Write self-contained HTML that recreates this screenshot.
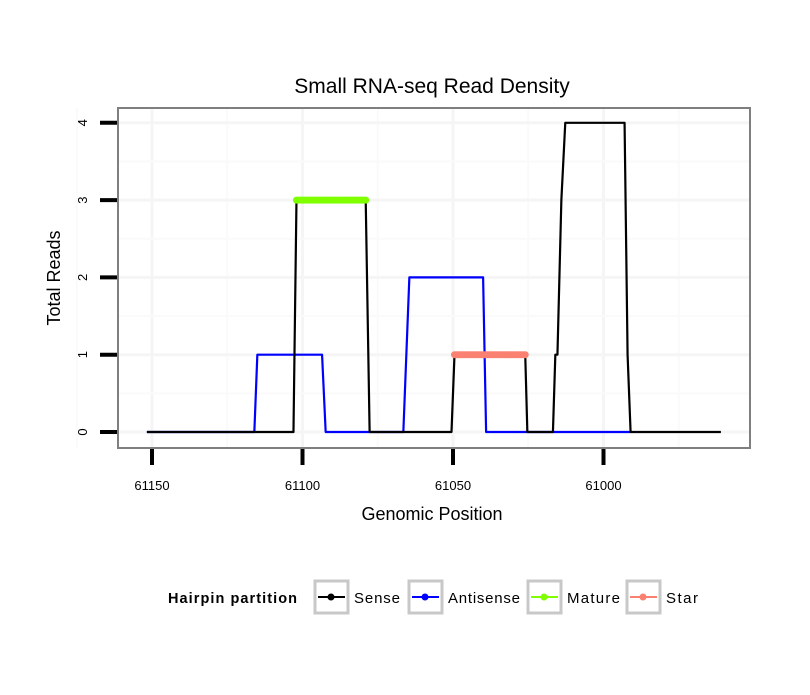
<!DOCTYPE html>
<html><head><meta charset="utf-8"><style>
body{margin:0;background:#fff;font-family:"Liberation Sans",sans-serif}
</style></head><body>
<svg width="810" height="690" xmlns="http://www.w3.org/2000/svg" font-family="Liberation Sans, sans-serif">
<rect width="810" height="690" fill="#fff"/>
<text x="432" y="93" font-size="21" text-anchor="middle">Small RNA-seq Read Density</text>
<g id="grid"></g>
<rect x="118" y="108" width="632" height="340" fill="none" stroke="#7f7f7f" stroke-width="2"/>
<g id="series"></g>
<g id="axes"></g>
<text x="432" y="520" font-size="18" text-anchor="middle">Genomic Position</text>
<text transform="translate(60,278) rotate(-90)" font-size="18" text-anchor="middle">Total Reads</text>
<g>
<text x="168" y="603" font-size="14.5" font-weight="bold" textLength="129">Hairpin partition</text>
<g><rect x="315" y="581" width="33" height="32" fill="#fff" stroke="#c8c8c8" stroke-width="3"/><line x1="318" y1="597" x2="345" y2="597" stroke="#000" stroke-width="2"/><circle cx="331" cy="597" r="3.5" fill="#000"/><text x="354" y="603" font-size="15" textLength="46">Sense</text></g>
<g><rect x="409" y="581" width="33" height="32" fill="#fff" stroke="#c8c8c8" stroke-width="3"/><line x1="412" y1="597" x2="439" y2="597" stroke="#0000ff" stroke-width="2"/><circle cx="425" cy="597" r="3.5" fill="#0000ff"/><text x="448" y="603" font-size="15" textLength="72">Antisense</text></g>
<g><rect x="528" y="581" width="33" height="32" fill="#fff" stroke="#c8c8c8" stroke-width="3"/><line x1="531" y1="597" x2="558" y2="597" stroke="#7fff00" stroke-width="2"/><circle cx="544" cy="597" r="3.5" fill="#7fff00"/><text x="567" y="603" font-size="15" textLength="53">Mature</text></g>
<g><rect x="627" y="581" width="33" height="32" fill="#fff" stroke="#c8c8c8" stroke-width="3"/><line x1="630" y1="597" x2="657" y2="597" stroke="#fa8072" stroke-width="2"/><circle cx="643" cy="597" r="3.5" fill="#fa8072"/><text x="666" y="603" font-size="15" textLength="32">Star</text></g>
</g>
</svg>
<script>
const xTicks=[61150,61100,61050,61000];
const yTicks=[0,1,2,3,4];
const senseX=[61151.7,61103,61102,61079,61077.7,61050.5,61049.5,61026,61025.3,61016.8,61016,61015.3,61014,61012.7,60993,60992,60991,60961];
const senseY=[0,0,3,3,0,0,1,1,0,0,1,1,3,4,4,1,0,0];
const antiX=[61151.7,61116,61115,61093.5,61092.3,61066.5,61064.5,61040,61039,60991];
const antiY=[0,0,1,1,0,0,2,2,0,0];
const matureRange=[61102,61079];const matureVal=3;
const starRange=[61049.5,61026];const starVal=1;
const NS="http://www.w3.org/2000/svg";
const X=p=>152+(61150-p)*3.01;
const Y=v=>432-v*77.3;
function mk(tag,attrs,parent){const e=document.createElementNS(NS,tag);for(const k in attrs)e.setAttribute(k,attrs[k]);parent.appendChild(e);return e;}
const grid=document.getElementById('grid'),axes=document.getElementById('axes'),ser=document.getElementById('series');
xTicks.forEach((t,i)=>{const g=mk('line',{x1:X(t),x2:X(t),y1:108,y2:448,stroke:'#f5f5f5','stroke-width':3},grid);

if(i<xTicks.length-1){const m=mk('line',{x1:X(t-25),x2:X(t-25),y1:108,y2:448,stroke:'#fafafa','stroke-width':2},grid);}
const tk=mk('line',{x1:X(t),x2:X(t),y1:449,y2:465,stroke:'#000','stroke-width':4},axes);
const tx=mk('text',{x:X(t),y:490,'font-size':13,'text-anchor':'middle'},axes);tx.textContent=t;});
const mg=mk('line',{x1:X(61175),x2:X(61175),y1:108,y2:448,stroke:'#fafafa','stroke-width':2},grid);

const mg2=mk('line',{x1:X(60975),x2:X(60975),y1:108,y2:448,stroke:'#fafafa','stroke-width':2},grid);

yTicks.forEach((t,i)=>{const g=mk('line',{x1:118,x2:750,y1:Y(t),y2:Y(t),stroke:'#f5f5f5','stroke-width':3},grid);

if(i<yTicks.length-1){const m=mk('line',{x1:118,x2:750,y1:Y(t+0.5),y2:Y(t+0.5),stroke:'#fafafa','stroke-width':2},grid);}
const tk=mk('line',{x1:100,x2:117,y1:Y(t),y2:Y(t),stroke:'#000','stroke-width':4},axes);
const tx=mk('text',{transform:`translate(87,${Y(t)}) rotate(-90)`,'font-size':13,'text-anchor':'middle'},axes);tx.textContent=t;});
function line(xs,ys,col,name){const p=mk('polyline',{points:xs.map((x,i)=>X(x)+','+Y(ys[i])).join(' '),fill:'none',stroke:col,'stroke-width':2.2,'stroke-linejoin':'round'},ser);
}
function pts(r,v,col,name){const g=mk('g',{},ser);
for(let p=r[0];p>=r[1];p-=0.5){mk('circle',{cx:X(p),cy:Y(v),r:3.5,fill:col},g);}}
line(antiX,antiY,'#0000ff','antisense-line');
line(senseX,senseY,'#000','sense-line');
pts(matureRange,matureVal,'#7fff00','mature-points');
pts(starRange,starVal,'#fa8072','star-points');
</script>
</body></html>
